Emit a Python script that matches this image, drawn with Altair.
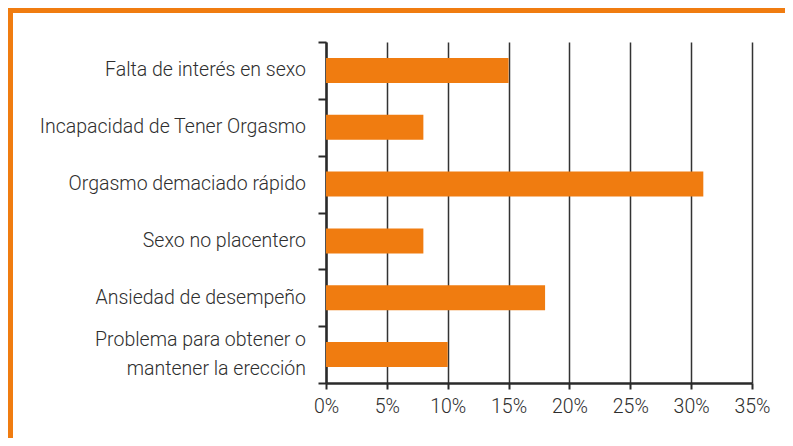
import altair as alt
import pandas as pd

categories = [
    "Falta de interés en sexo",
    "Incapacidad de Tener Orgasmo",
    "Orgasmo demaciado rápido",
    "Sexo no placentero",
    "Ansiedad de desempeño",
    "Problema para obtener o\nmantener la erección",
]
values = [15, 8, 31, 8, 18, 10]
x_ticks = [0, 5, 10, 15, 20, 25, 30, 35]

df = pd.DataFrame({"cat": categories, "val": values})

W, H = 426, 341
ORANGE = "#F07C10"
FONT = "Roboto"
TEXT = "#2e2e2e"
FS = 19.5
FW = 300
LH = 29

yenc = alt.Y(
    "cat:N",
    sort=categories,
    scale=alt.Scale(paddingInner=0, paddingOuter=0),
    axis=alt.Axis(
        title=None,
        tickBand="extent",
        labels=False,
        domainColor="#2a2a2a",
        domainWidth=2.5,
        tickColor="#2a2a2a",
        tickWidth=2,
        tickSize=8,
        grid=False,
    ),
)

bars = alt.Chart(df).mark_bar(color=ORANGE, size=25).encode(
    x=alt.X(
        "val:Q",
        scale=alt.Scale(domain=[0, 35], nice=False),
        axis=alt.Axis(
            values=x_ticks,
            labelExpr="datum.value + '%'",
            labelFlush=False,
            title=None,
            grid=True,
            gridColor="#333333",
            gridWidth=1.5,
            gridOpacity=1,
            domainColor="#2a2a2a",
            domainWidth=2.5,
            tickColor="#2a2a2a",
            tickWidth=2,
            tickSize=6,
            labelFont=FONT,
            labelFontSize=FS,
            labelFontWeight=FW,
            labelColor=TEXT,
            labelPadding=8,
        ),
    ),
    y=yenc,
)

text_style = dict(
    align="right",
    baseline="middle",
    lineBreak="\n",
    lineHeight=LH,
    font=FONT,
    fontSize=FS,
    fontWeight=FW,
    color=TEXT,
)

labels_single = (
    alt.Chart(df)
    .transform_filter("indexof(datum.cat, '\\n') < 0")
    .mark_text(**text_style)
    .encode(y=alt.Y("cat:N", sort=categories), x=alt.value(-20), text="cat:N")
)
labels_multi = (
    alt.Chart(df)
    .transform_filter("indexof(datum.cat, '\\n') >= 0")
    .mark_text(dy=-LH / 2, **text_style)
    .encode(y=alt.Y("cat:N", sort=categories), x=alt.value(-20), text="cat:N")
)

# decorative orange frame (top and left edges)
frame_top = alt.Chart(df).mark_rule(color=ORANGE, strokeWidth=5).encode(
    x=alt.value(-318), x2=alt.value(W + 40), y=alt.value(-31.5)
)
frame_left = alt.Chart(df).mark_rule(color=ORANGE, strokeWidth=5).encode(
    x=alt.value(-315.5), y=alt.value(-34), y2=alt.value(H + 60)
)

chart = (
    alt.layer(bars, labels_single, labels_multi, frame_top, frame_left)
    .properties(
        width=W,
        height=H,
        autosize=alt.AutoSizeParams(type="none"),
        padding={"left": 318, "top": 34, "right": 33, "bottom": 55},
        background="white",
    )
    .configure_view(stroke=None)
)

chart.save("out.html", embed_options={"renderer": "svg", "actions": False})
